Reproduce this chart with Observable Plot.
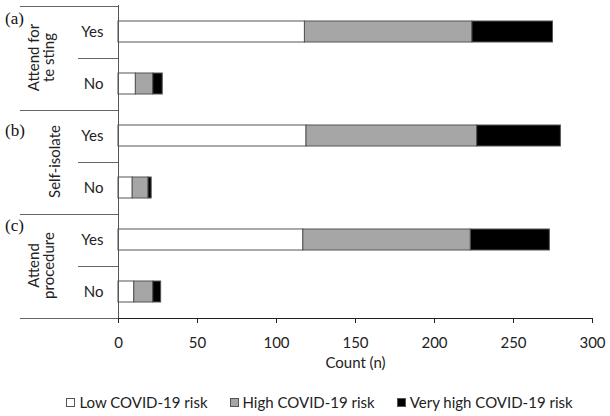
<!DOCTYPE html>
<html>
<head>
<meta charset="utf-8">
<script src="https://cdn.jsdelivr.net/npm/d3@7"></script>
<script src="https://cdn.jsdelivr.net/npm/@observablehq/plot@0.6"></script>
<style>
  body { margin: 0; background: #fff; }
  #legend { display: flex; justify-content: center; gap: 22px; padding-left: 29px; padding-top: 7px;
            font-family: Lato, sans-serif; font-size: 15px; line-height: 20px; color: #222; }
  #legend .item { display: flex; align-items: center; }
  #legend .sw { width: 7px; height: 7px; border: 1px solid #555; margin-right: 4px; }
</style>
</head>
<body>
<div id="chart"></div>
<div id="legend"></div>
<script>
// ---- data ----
const rowKeys = ["a Yes", "a No", "b Yes", "b No", "c Yes", "c No"];
const responses = ["Yes", "No", "Yes", "No", "Yes", "No"];
const lowRisk = [118, 11, 119, 9, 117, 10];
const highRisk = [106, 11, 108, 10, 106, 12];
const veryHighRisk = [51, 6, 53, 2, 50, 5];
const riskLevels = ["Low COVID-19 risk", "High COVID-19 risk", "Very high COVID-19 risk"];
const riskColors = ["#ffffff", "#a6a6a6", "#000000"];
const groupLetters = ["(a)", "(b)", "(c)"];
const groupTitles = [["Attend for", "te sting"], ["Self-isolate"], ["Attend", "procedure"]];
const xTicks = [0, 50, 100, 150, 200, 250, 300];

const table = [];
rowKeys.forEach((k, i) => {
  [lowRisk, highRisk, veryHighRisk].forEach((arr, j) => {
    table.push({row: k, risk: riskLevels[j], count: arr[i]});
  });
});

function frameMark(index, scales, values, dims) {
  const y = scales.y;
  const step = y(rowKeys[1]) - y(rowKeys[0]);
  const bw = y.bandwidth ? y.bandwidth() : step * 0.4;
  const off = (step - bw) / 2;
  const L = dims.marginLeft;
  const g = d3.create("svg:g");
  const line = (x1, yy) => g.append("line").attr("x1", x1).attr("x2", L)
    .attr("y1", yy).attr("y2", yy).attr("stroke", "#666").attr("stroke-width", 1.2);
  rowKeys.forEach((k, i) => line(i % 2 === 0 ? 20 : 78, Math.round(y(k) - off) + 0.5));
  line(20, Math.round(y(rowKeys[rowKeys.length - 1]) + bw + off) + 0.5);
  const letterDy = [18, 26, 17];
  groupLetters.forEach((lab, j) => {
    const top = y(rowKeys[2 * j]) - off;
    const bottom = y(rowKeys[2 * j + 1]) + bw + off;
    const cy = (top + bottom) / 2;
    g.append("text").attr("x", 5).attr("y", top + letterDy[j])
      .attr("text-anchor", "start")
      .attr("font-family", "'Liberation Serif', serif").attr("font-size", 17)
      .attr("fill", "#111").text(lab);
    const lines = groupTitles[j];
    const xs = lines.length === 2 ? [33, 48] : [54];
    lines.forEach((t, m) => {
      g.append("text").attr("transform", `translate(${xs[m]},${cy}) rotate(-90)`)
        .attr("text-anchor", "middle").attr("dominant-baseline", "central")
        .attr("font-size", 15).attr("fill", "#222").text(t);
    });
  });
  return g.node();
}

const chart = Plot.plot({
  width: 610,
  height: 385,
  marginLeft: 118,
  marginRight: 18,
  marginTop: 5,
  marginBottom: 67,
  style: {fontFamily: "Lato, sans-serif", fontSize: "15px", color: "#222", background: "#fff"},
  x: {domain: [0, 300], ticks: xTicks, tickSize: 5, tickPadding: 14, line: true,
      label: "Count (n)", labelAnchor: "center", labelArrow: "none", labelOffset: 49},
  y: {domain: rowKeys, paddingInner: 0.6, paddingOuter: 0.3, tickSize: 0, tickPadding: 15,
      tickFormat: d => d.split(" ")[1], label: null},
  color: {domain: riskLevels, range: riskColors},
  marks: [
    Plot.barX(table, Plot.stackX({y: "row", x: "count", fill: "risk", stroke: "#555", strokeWidth: 1})),
    Plot.ruleX([0], {stroke: "#555"}),
    frameMark
  ]
});
document.getElementById("chart").appendChild(chart);

const legend = d3.select("#legend");
riskLevels.forEach((r, i) => {
  const it = legend.append("div").attr("class", "item");
  it.append("div").attr("class", "sw").style("background", riskColors[i]);
  it.append("span").text(r);
});
</script>
</body>
</html>
